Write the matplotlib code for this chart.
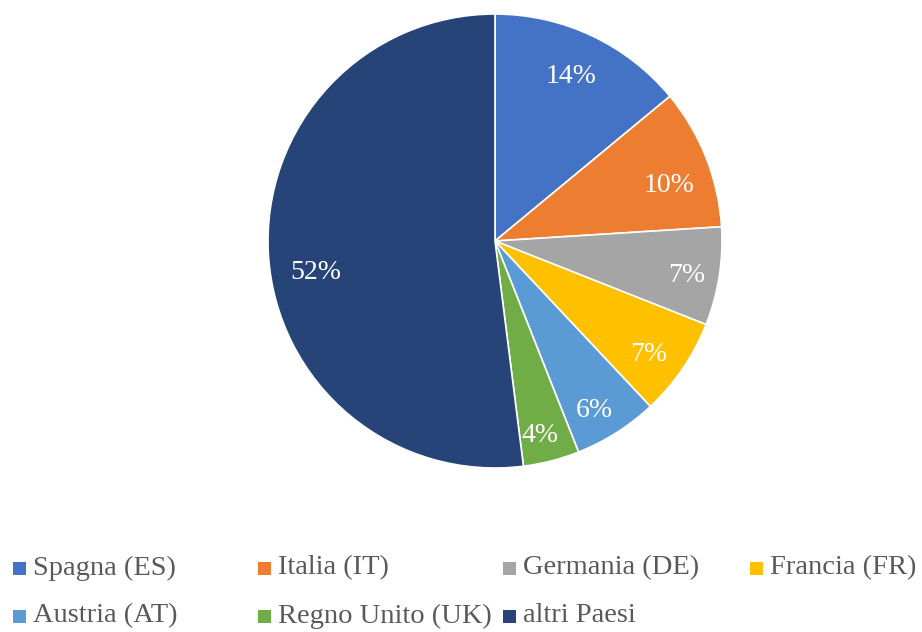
import matplotlib
matplotlib.use("Agg")
import matplotlib.pyplot as plt
from matplotlib.patches import Rectangle
from matplotlib import rcParams

labels = ["Spagna (ES)", "Italia (IT)", "Germania (DE)", "Francia (FR)",
          "Austria (AT)", "Regno Unito (UK)", "altri Paesi"]
values = [14, 10, 7, 7, 6, 4, 52]
colors = ["#4472C4", "#ED7D31", "#A5A5A5", "#FFC000", "#5B9BD5", "#70AD47", "#264478"]

rcParams.update({"font.family": ["Liberation Serif", "DejaVu Serif"]})

W, H = 922, 632
fig = plt.figure(figsize=[W / 100, H / 100], dpi=100)

# pie: center (495, 241) px, radius 227 px
cx, cy, r = 495, 241, 227
ax = fig.add_axes([(cx - r) / W, 1 - (cy + r) / H, 2 * r / W, 2 * r / H])
wedges, texts, autotexts = ax.pie(values, colors=colors, startangle=90, counterclock=False,
                                  autopct="%d%%", pctdistance=0.8, radius=1,
                                  wedgeprops=dict(linewidth=1.2, edgecolor="white"),
                                  textprops=dict(color="white", fontsize=20))
# nudge labels (pixels) to sit where the original places them
nudge = [(-1, 0), (5, 11), (12, 6), (3, 11), (2, 16), (0, 19), (2, 20)]
for t, (dx, dy) in zip(autotexts, nudge):
    x, y = t.get_position()
    t.set_position((x + dx / r, y - dy / r))
ax.set_xlim(-1, 1)
ax.set_ylim(-1, 1)
ax.set_aspect("equal")
ax.axis("off")

# legend, 4 columns
col_x = [13, 258, 503, 750]
row_y = [568, 616]
for i, (lab, c) in enumerate(zip(labels, colors)):
    x = col_x[i % 4]
    y = row_y[i // 4]
    fig.patches.append(Rectangle((x / W, 1 - (y + 6.5) / H), 13 / W, 13 / H,
                                 transform=fig.transFigure, facecolor=c, edgecolor="none"))
    fig.text((x + 20) / W, 1 - y / H, lab, fontsize=20.5, color="#595959",
             ha="left", va="center")

plt.savefig("out.png", dpi=100)
